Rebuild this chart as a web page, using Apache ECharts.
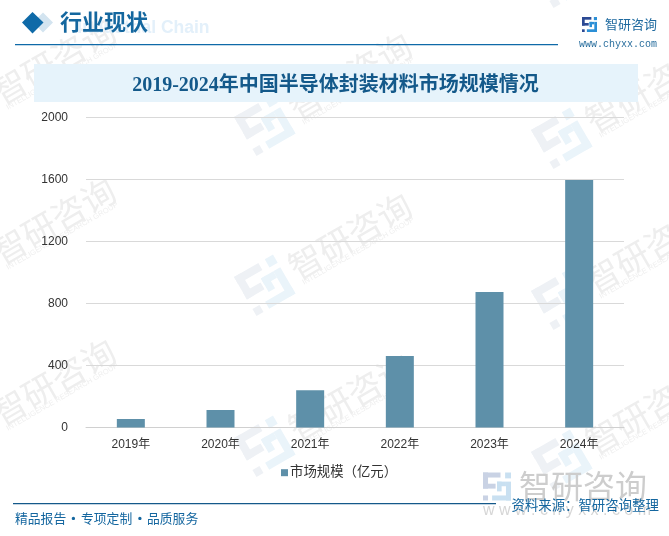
<!DOCTYPE html>
<html><head><meta charset="utf-8">
<style>html,body{margin:0;padding:0;background:#fff}#c{width:669px;height:536px}</style>
<script src="https://cdn.jsdelivr.net/npm/echarts@6/dist/echarts.min.js"></script>
</head><body><div id="c"></div>
<script>
const categories = ['2019年','2020年','2021年','2022年','2023年','2024年'];
const marketSize = [55, 113, 240, 461, 874, 1597];
const seriesName = '市场规模（亿元）';
const chartTitle = '2019-2024年中国半导体封装材料市场规模情况';
const yTicks = { min: 0, max: 2000, interval: 400 };

const sans = '"Liberation Sans","Noto Sans CJK SC",sans-serif';
const serif = '"Liberation Serif","Noto Sans CJK SC",serif';
const cjk = '"Noto Sans CJK SC"';
const blue = '#0f6aa8', dark = '#14598a', footBlue = '#14669f';

// the brand mark: two interlocking shapes made of rectangles, in a 20x20 box
function logo(x, y, s, rot, c1, c2) {
  const parts = [
    [0,0,12.5,3.6,c1],[0,0,3.6,11.5,c1],[0,8,9,3.5,c1],[0,16.4,3.6,3.6,c1],
    [15.8,0,4.2,4.2,c2],[16.4,6.5,3.6,13.5,c2],[10,6.5,6.4,3.3,c2],[10,6.5,3.3,7,c2],[6.5,16.4,13.5,3.6,c2]
  ];
  return {
    type:'group', x, y, rotation:rot, scaleX:s, scaleY:s, silent:true, z:0,
    children: parts.map(p=>({type:'rect',shape:{x:p[0],y:p[1],width:p[2],height:p[3]},style:{fill:p[4]}}))
  };
}
function mark(x, y) {
  const rot = 30*Math.PI/180;
  return [
    logo(x, y, 2.25, rot, '#eef1f5', '#eaf4fa'),
    {type:'text', x:x+57, y:y-7, rotation:rot, silent:true, z:0,
      style:{text:'智研咨询',font:'34px '+cjk,fill:'#eeeeee',verticalAlign:'middle'}},
    {type:'text', x:x+69, y:y+6, rotation:rot, silent:true, z:0,
      style:{text:'INTELLIGENCE RESEARCH GROUP',font:'7.5px "Liberation Sans"',fill:'#efefef',verticalAlign:'middle'}}
  ];
}
const markSpots = [
  [-62,-59],[-62,102],[-62,262],[-62,423],
  [234,-44],[234,117],[234,277],[234,438],
  [531,-31],[531,130],[531,291],[531,452]
];
const watermarks = markSpots.flatMap(p=>mark(p[0],p[1]));

const chrome = [
  // header
  {type:'polygon',silent:true,z:2,shape:{points:[[43,12.5],[53,22.5],[43,32.5],[33,22.5]]},style:{fill:'#d3e4f0'}},
  {type:'polygon',silent:true,z:3,shape:{points:[[32.5,12],[43.5,22.5],[32.5,33.5],[22,22.5]]},style:{fill:blue}},
  {type:'text',x:209.5,y:28.5,silent:true,z:2,style:{text:'Industrial Chain',font:'bold 17.5px "Liberation Sans"',fill:'#e3f0fa',align:'right',verticalAlign:'middle'}},
  {type:'text',x:60,y:22,silent:true,z:3,style:{text:'行业现状',font:'bold 22px '+cjk,fill:'#14679f',verticalAlign:'middle'}},
  {type:'rect',silent:true,z:2,shape:{x:15,y:44,width:543,height:1.3},style:{fill:blue}},
  // top-right brand
  logo(582,17,0.75,0,'#2c4a94','#2b8fd6'),
  {type:'text',x:605,y:24,silent:true,z:3,style:{text:'智研咨询',font:'13px '+cjk,fill:'#1f6a9f',verticalAlign:'middle'}},
  {type:'text',x:579,y:44,silent:true,z:3,style:{text:'www.chyxx.com',font:'10px "Liberation Mono"',fill:'#2a6f9e',verticalAlign:'middle'}},
  // title band
  {type:'rect',silent:true,z:1,shape:{x:34,y:64,width:604,height:38},style:{fill:'#e6f3fb'}},
  {type:'text',x:335.5,y:86,silent:true,z:3,style:{text:chartTitle,font:'bold 20px '+serif,fill:dark,align:'center',verticalAlign:'middle'}},
  // footer
  {type:'rect',silent:true,z:2,shape:{x:13,y:503,width:483,height:1.3},style:{fill:dark}},
  {type:'text',x:15,y:518,silent:true,z:3,style:{text:'精品报告',font:'12.8px '+cjk,fill:footBlue,verticalAlign:'middle'}},
  {type:'text',x:73.5,y:518,silent:true,z:3,style:{text:'·',font:'bold 12.8px '+cjk,fill:footBlue,align:'center',verticalAlign:'middle'}},
  {type:'text',x:81,y:518,silent:true,z:3,style:{text:'专项定制',font:'12.8px '+cjk,fill:footBlue,verticalAlign:'middle'}},
  {type:'text',x:140,y:518,silent:true,z:3,style:{text:'·',font:'bold 12.8px '+cjk,fill:footBlue,align:'center',verticalAlign:'middle'}},
  {type:'text',x:147,y:518,silent:true,z:3,style:{text:'品质服务',font:'12.8px '+cjk,fill:footBlue,verticalAlign:'middle'}},
  // bottom-right brand mark
  logo(483,472.5,1.4,0,'#c9d2e4','#c9e0f1'),
  {type:'text',x:519,y:486,silent:true,z:1,style:{text:'智研咨询',font:'32px '+cjk,fill:'#cdcdcd',verticalAlign:'middle'}},
  {type:'text',x:483,y:511,silent:true,z:1,style:{text:'w w w . c h y x x . c o m',font:'16px "Liberation Sans"',fill:'#d6d6d6',verticalAlign:'middle'}},
  {type:'text',x:511.5,y:504.5,silent:true,z:3,style:{text:'资料来源：智研咨询整理',font:'13.4px '+cjk,fill:footBlue,verticalAlign:'middle'}}
];

const chart = echarts.init(document.getElementById('c'), null, {renderer:'canvas'});
chart.setOption({
  animation:false,
  backgroundColor:'#fff',
  graphic:{elements:[...watermarks,...chrome]},
  grid:{left:86,right:45,top:117.5,bottom:108.5,containLabel:false},
  legend:{
    top:461,left:276,itemWidth:7,itemHeight:7,itemGap:0,icon:'rect',
    data:[seriesName],
    textStyle:{fontFamily:sans,fontSize:13.4,color:'#333',padding:[0,0,0,-3]}
  },
  xAxis:{
    type:'category',data:categories,
    axisLine:{lineStyle:{color:'#d0d0d0',width:1}},axisTick:{show:false},
    axisLabel:{color:'#333',fontFamily:sans,fontSize:12,margin:11}
  },
  yAxis:{
    type:'value',min:yTicks.min,max:yTicks.max,interval:yTicks.interval,
    axisLine:{show:false},axisTick:{show:false},
    axisLabel:{color:'#333',fontFamily:sans,fontSize:12,margin:18,formatter:v=>String(v)},
    splitLine:{lineStyle:{color:'#d9d9d9',width:1}}
  },
  series:[{name:seriesName,type:'bar',data:marketSize,barWidth:28,itemStyle:{color:'#5e90a9'}}]
});
</script></body></html>
